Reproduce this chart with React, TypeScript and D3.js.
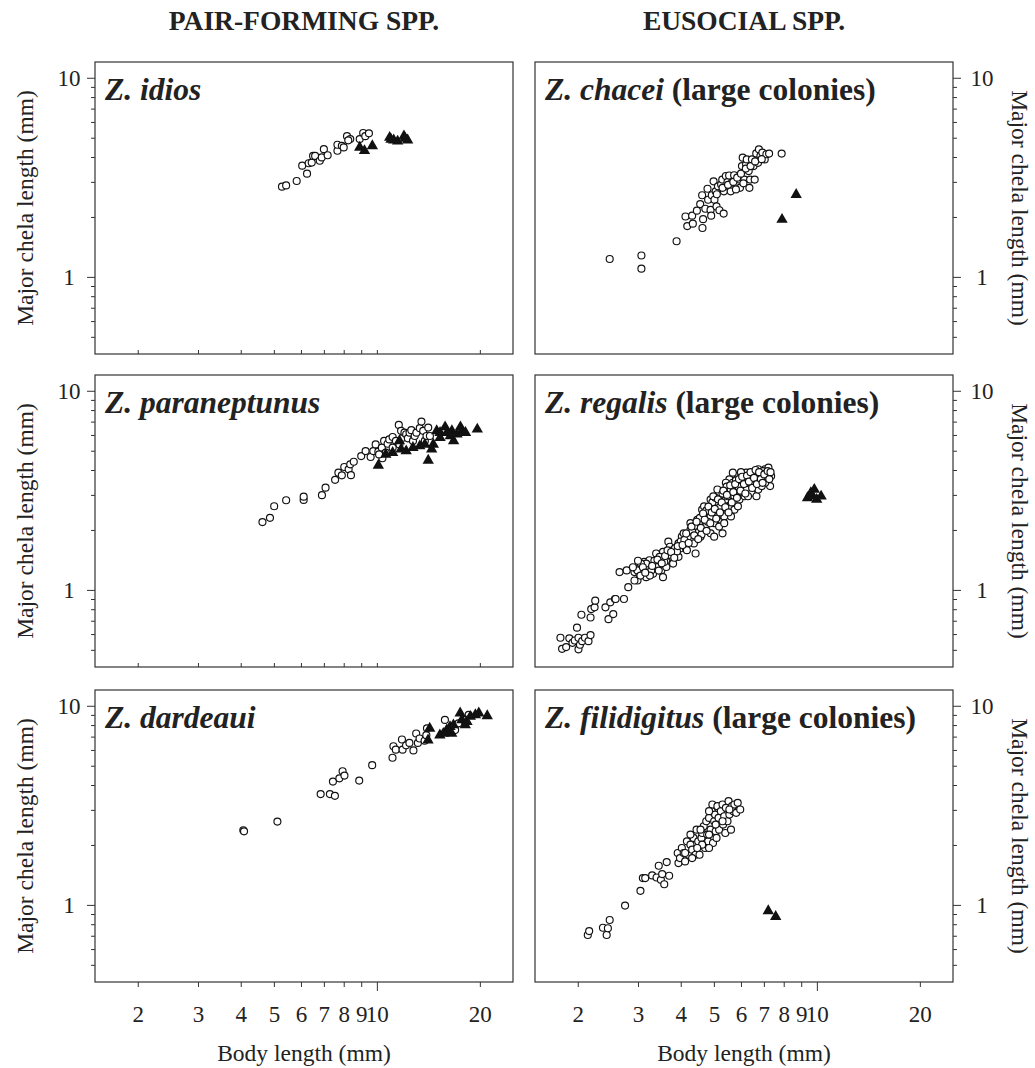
import React, { useEffect, useRef } from 'react';
import * as d3 from 'd3';

// body length (mm), major chela length (mm); circles = non-breeders, triangles = breeders
const idiosCircles = [[5.28,2.84],[5.43,2.88],[5.83,3.03],[6.05,3.62],[6.25,3.30],[6.32,3.72],[6.45,3.75],[6.51,4.05],[6.6,4.05],[6.81,3.83],[6.9,3.98],[7.0,4.38],[7.18,4.08],[7.67,4.30],[7.67,4.61],[7.9,4.55],[8.0,4.47],[8.18,5.09],[8.36,4.92],[8.91,4.92],[9.12,5.28],[9.25,5.09],[9.48,5.26],[8.25,4.85]];
const idiosTriangles = [[8.91,4.47],[9.2,4.3],[9.7,4.55],[10.9,5.01],[11.2,4.86],[11.5,4.8],[12.0,5.09],[12.3,4.86],[11.0,4.9],[12.1,4.95]];

const paraCircles = [[4.63,2.19],[4.87,2.30],[5.01,2.63],[5.43,2.82],[6.11,2.83],[6.11,2.94],[6.91,2.99],[7.08,3.26],[7.55,3.57],[7.72,3.88],[7.90,3.76],[8.03,4.14],[8.27,4.03],[8.36,4.27],[8.40,3.77],[8.56,4.40],[9.00,4.70],[9.27,4.98],[9.59,4.65],[9.76,4.98],[9.92,5.38],[10.10,4.94],[10.34,5.18],[10.38,4.58],[10.50,5.60],[10.75,5.42],[10.87,5.70],[11.12,5.86],[11.37,5.60],[11.59,6.74],[11.77,6.29],[11.91,5.81],[12.04,6.16],[12.18,6.05],[12.32,5.77],[12.46,6.16],[12.61,6.34],[12.75,5.60],[12.90,5.93],[13.05,6.16],[13.35,6.49],[13.50,7.00],[13.66,6.29],[13.81,5.60],[13.97,5.93],[14.13,6.53],[14.29,5.93],[11.64,5.38],[11.12,5.18],[10.62,4.89],[10.15,4.79]];
const paraTriangles = [[10.10,4.22],[10.62,4.79],[11.12,4.89],[11.77,5.08],[12.18,4.98],[12.75,5.18],[13.35,5.28],[13.81,5.38],[14.13,4.47],[14.46,5.08],[14.62,5.38],[14.96,6.29],[15.30,6.16],[15.83,6.58],[16.02,6.16],[16.57,6.29],[16.76,5.60],[17.55,6.58],[17.74,6.29],[18.16,6.16],[19.66,6.41],[11.64,5.60],[15.30,5.81],[16.39,5.93],[17.15,6.05]];

const dardCircles = [[4.07,2.37],[4.09,2.34],[5.12,2.62],[6.85,3.60],[7.29,3.60],[7.54,3.53],[7.44,4.16],[7.77,4.32],[7.94,4.69],[8.04,4.46],[8.88,4.21],[9.69,5.03],[11.11,5.48],[11.18,6.26],[11.36,6.02],[11.84,6.77],[11.89,6.02],[12.17,6.33],[12.45,6.51],[12.79,5.97],[13.03,7.26],[13.18,6.51],[13.33,6.85],[13.79,6.67],[13.95,7.12],[14.01,7.70],[15.81,8.49],[16.93,7.55],[17.32,8.16],[17.93,8.49],[18.55,9.00]];
const dardTriangles = [[14.11,6.72],[14.27,7.70],[15.28,7.12],[16.00,7.55],[16.36,7.85],[16.55,7.26],[16.74,8.00],[17.52,9.18],[17.72,8.49],[18.34,8.32],[18.76,8.83],[19.41,9.00],[19.86,9.18],[21.02,8.90],[18.13,8.00],[16.18,7.41],[15.64,7.26]];

const chaceiCircles = [[2.48,1.23],[3.07,1.28],[3.07,1.10],[3.89,1.51],[4.13,2.01],[4.18,1.80],[4.32,2.03],[4.34,1.85],[4.46,2.15],[4.56,2.32],[4.63,1.76],[4.65,1.95],[4.62,2.57],[4.72,2.20],[4.79,2.77],[4.81,2.44],[4.89,2.17],[4.91,2.03],[4.93,2.57],[4.99,3.02],[5.02,2.44],[5.06,2.69],[5.09,2.26],[5.14,2.85],[5.19,2.16],[5.25,2.91],[5.34,2.08],[5.29,3.08],[5.35,2.69],[5.42,3.21],[5.48,2.99],[5.54,3.23],[5.60,2.69],[5.64,2.97],[5.73,3.24],[5.93,3.08],[5.96,2.80],[6.04,3.60],[6.07,3.97],[6.14,3.08],[6.21,3.67],[6.24,3.89],[6.32,3.40],[6.35,2.80],[6.38,3.08],[6.46,3.89],[6.53,3.60],[6.58,3.08],[6.65,4.17],[6.73,3.74],[6.77,4.37],[6.84,4.05],[6.93,4.21],[7.04,3.89],[7.12,4.13],[7.25,4.16],[7.89,4.16],[5.1,2.6],[5.3,2.8],[5.5,2.9],[5.7,3.0],[5.85,3.15],[6.0,3.3],[6.2,3.5],[6.4,3.6],[6.6,3.8],[6.9,3.9],[5.8,2.75],[6.1,2.95]];
const chaceiTriangles = [[7.91,1.94],[8.70,2.59]];

const regalisCircles = [[1.78,0.575],[1.80,0.506],[1.85,0.516],[1.89,0.571],[1.93,0.542],[1.96,0.557],[1.99,0.646],[2.01,0.503],[2.01,0.575],[2.03,0.53],[2.05,0.750],[2.06,0.553],[2.10,0.575],[2.15,0.553],[2.18,0.593],[2.18,0.727],[2.19,0.801],[2.24,0.817],[2.25,0.883],[2.41,0.817],[2.46,0.713],[2.49,0.866],[2.54,0.756],[2.57,0.900],[2.58,0.900],[2.73,0.900],[2.65,1.229],[2.78,1.253],[2.81,1.032],[2.93,1.229],[2.96,1.278],[2.99,1.115],[3.03,1.206],[3.10,1.253],[3.13,1.382],[3.17,1.159],[3.21,1.303],[3.24,1.409],[3.32,1.206],[3.39,1.523],[3.47,1.355],[3.51,1.253],[3.55,1.159],[3.55,1.553],[3.63,1.409],[3.68,1.746],[3.72,1.646],[3.76,1.465],[3.80,1.583],[3.89,1.523],[3.94,1.711],[3.98,1.614],[4.03,1.851],[4.08,1.924],[4.12,1.646],[4.17,1.780],[4.27,2.001],[4.32,1.815],[4.37,1.711],[4.42,1.523],[4.47,2.001],[4.52,2.163],[4.57,1.851],[4.62,2.528],[4.62,2.338],[4.68,2.040],[4.78,2.249],[4.84,2.431],[4.89,2.842],[4.95,2.629],[5.01,2.163],[5.07,2.431],[5.12,2.733],[5.18,3.012],[5.24,2.249],[5.24,2.528],[5.30,1.924],[5.36,2.338],[5.42,2.842],[5.49,3.193],[5.55,2.629],[5.55,3.589],[5.61,2.954],[5.68,3.452],[5.74,2.528],[5.81,3.193],[5.88,3.732],[5.94,2.842],[6.01,3.452],[6.08,3.071],[6.15,3.589],[6.22,3.880],[6.29,3.320],[6.37,3.732],[6.44,3.071],[6.51,3.452],[6.59,3.880],[6.66,2.954],[6.74,4.034],[6.82,3.520],[6.90,3.805],[6.98,3.732],[7.06,4.034],[7.14,3.589],[7.22,4.113],[7.30,3.320],[7.35,3.732],[5.49,2.954],[5.12,2.338],[4.89,2.338],[4.73,2.080],[4.52,1.963],[4.32,1.963],[4.17,1.583],[3.94,1.465],[3.80,1.355],[3.63,1.303],[3.39,1.303],[3.28,1.253],[3.17,1.355],[3.06,1.355],[2.99,1.253],[2.93,1.115],[3.47,1.465],[4.89,1.924],[5.01,1.851],[5.18,2.080],[5.36,2.163],[5.61,2.338],[5.88,2.629],[6.15,2.954],[6.44,3.320],[6.74,3.193],[7.06,3.452],[6.15,3.320],[6.01,3.732],[6.29,2.954],[5.74,2.954],[5.36,2.629],[4.89,2.528],[4.68,2.629],[4.47,2.249],[4.27,2.163],[5.12,3.193],[5.42,3.452],[5.68,3.880],[6.59,3.452],[6.90,3.320],[3.35,1.40],[3.58,1.38],[3.70,1.50],[3.85,1.62],[4.00,1.75],[4.20,1.85],[4.40,2.10],[4.55,2.30],[4.75,2.50],[4.95,2.75],[5.05,2.90],[5.30,3.05],[5.45,3.30],[5.60,3.20],[5.80,3.55],[6.00,3.90],[6.30,3.60],[6.50,3.80],[6.70,3.65],[6.95,3.95],[7.10,3.85],[5.90,3.30],[6.20,3.20],[5.20,2.60],[4.80,2.20],[4.60,1.90],[4.10,1.78],[3.90,1.56],[3.10,1.30],[3.25,1.18],[3.45,1.25],[2.90,1.30],[3.00,1.40],[3.05,1.18],[3.15,1.22],[3.30,1.32],[3.42,1.42],[3.52,1.36],[3.60,1.48],[3.66,1.58],[3.75,1.55],[3.83,1.45],[3.92,1.66],[4.05,1.68],[4.15,1.92],[4.22,1.72],[4.30,2.08],[4.38,1.88],[4.45,2.20],[4.50,1.80],[4.58,2.05],[4.65,2.42],[4.70,2.25],[4.76,1.98],[4.82,2.62],[4.88,2.16],[4.93,2.45],[4.98,2.95],[5.03,2.55],[5.08,2.28],[5.14,2.85],[5.21,2.45],[5.27,2.75],[5.33,3.15],[5.40,2.60],[5.46,3.00],[5.52,2.45],[5.58,3.35],[5.64,2.75],[5.70,3.10],[5.77,3.40],[5.84,2.90],[5.92,3.60],[5.98,3.15],[6.05,3.70],[6.12,3.40],[6.18,3.05],[6.25,3.75],[6.33,3.50],[6.40,3.90],[6.47,3.25],[6.55,3.65],[6.62,4.00],[6.68,3.40],[6.78,3.90],[6.86,3.60],[6.94,3.45],[7.02,3.80],[7.18,3.95],[7.26,3.60],[7.32,3.90]];
const regalisTriangles = [[9.39,2.897],[9.83,3.193],[9.99,2.842],[10.29,2.954],[9.72,2.954],[9.6,3.07]];

const filiCircles = [[2.14,0.706],[2.16,0.739],[2.37,0.768],[2.43,0.706],[2.45,0.763],[2.48,0.840],[2.75,0.992],[3.05,1.176],[3.10,1.363],[3.15,1.363],[3.30,1.406],[3.40,1.373],[3.45,1.572],[3.50,1.336],[3.53,1.428],[3.58,1.270],[3.64,1.641],[3.70,1.400],[3.92,1.822],[3.94,1.622],[3.98,1.718],[4.03,1.931],[4.08,1.822],[4.12,1.654],[4.17,2.086],[4.22,1.786],[4.27,2.007],[4.32,1.894],[4.36,2.169],[4.42,1.786],[4.45,2.387],[4.50,2.086],[4.54,1.786],[4.60,2.169],[4.62,2.297],[4.67,2.483],[4.71,1.931],[4.75,2.630],[4.78,2.254],[4.81,2.086],[4.84,2.735],[4.89,2.387],[4.93,2.955],[4.95,3.193],[4.97,2.046],[5.01,2.630],[5.04,2.842],[5.06,2.342],[5.09,2.169],[5.12,3.133],[5.16,2.735],[5.18,2.387],[5.24,2.955],[5.30,3.193],[5.32,2.530],[5.36,2.788],[5.40,2.297],[5.42,3.072],[5.48,2.630],[5.52,3.319],[5.55,2.842],[5.61,2.387],[5.65,3.133],[5.70,2.955],[5.74,3.193],[5.81,2.899],[5.87,3.255],[5.97,3.013],[4.84,1.931],[4.62,2.007],[4.47,1.931],[4.32,1.718],[4.12,1.822],[4.27,2.254],[4.57,2.387],[4.84,2.254],[5.06,2.530],[5.30,2.630],[5.55,3.013],[4.84,2.955]];
const filiTriangles = [[7.21,0.933],[7.58,0.873]];

const columnTitles = ['PAIR-FORMING SPP.', 'EUSOCIAL SPP.'];
const xTickValues = [2, 3, 4, 5, 6, 7, 8, 9, 10, 20];
const yTickValues = [0.5, 0.6, 0.7, 0.8, 0.9, 1, 2, 3, 4, 5, 6, 7, 8, 9, 10];
const yTitle = 'Major chela length (mm)';
const xTitle = 'Body length (mm)';

const panels = [
    { col: 0, row: 0, species: 'Z. idios', extra: '', circles: idiosCircles, triangles: idiosTriangles },
    { col: 0, row: 1, species: 'Z. paraneptunus', extra: '', circles: paraCircles, triangles: paraTriangles },
    { col: 0, row: 2, species: 'Z. dardeaui', extra: '', circles: dardCircles, triangles: dardTriangles },
    { col: 1, row: 0, species: 'Z. chacei', extra: ' (large colonies)', circles: chaceiCircles, triangles: chaceiTriangles },
    { col: 1, row: 1, species: 'Z. regalis', extra: ' (large colonies)', circles: regalisCircles, triangles: regalisTriangles },
    { col: 1, row: 2, species: 'Z. filidigitus', extra: ' (large colonies)', circles: filiCircles, triangles: filiTriangles },
];

// find a serif face that is really installed (width test against generic fallbacks)
function pickSerif() {
    const ctx = document.createElement('canvas').getContext('2d');
    const s = 'abcdefghijklmnopqrstuvwxyzABCDEFGHIJKLMNOPQRSTUVWXYZ0123456789()';
    const cands = ['Liberation Serif', 'Times New Roman', 'Tinos', 'Nimbus Roman', 'Nimbus Roman No9 L', 'DejaVu Serif', 'Noto Serif', 'FreeSerif', 'Georgia'];
    if (!ctx) return 'serif';
    for (const f of cands) {
        for (const base of ['monospace', 'sans-serif']) {
            ctx.font = '40px ' + base;
            const w0 = ctx.measureText(s).width;
            ctx.font = '40px "' + f + '", ' + base;
            const w1 = ctx.measureText(s).width;
            if (Math.abs(w1 - w0) > 0.5) return '"' + f + '", serif';
        }
    }
    return 'serif';
}

export default function App() {
    const ref = useRef<SVGSVGElement>(null);

    useEffect(() => {
        document.body.style.margin = '0';
        draw();
    }, []);

    const draw = () => {
        const FONT = pickSerif();
        const W = 1035, H = 1068;
        const colX = [95, 535];
        const rowY = [62, 375, 690];
        const pw = 418, ph = 292;

        const svg = d3.select(ref.current);
        svg.selectAll('*').remove();
        svg.append('rect').attr('width', W).attr('height', H).attr('fill', '#fff');

        const x = d3.scaleLog().domain([1.5, 25]).range([0, pw]);
        const y = d3.scaleLog().domain([0.41, 12]).range([ph, 0]);

        const root = svg.append('g').style('font-family', FONT);

        // column headers
        columnTitles.forEach((t, i) => {
            root.append('text')
                .attr('x', colX[i] + pw / 2)
                .attr('y', 30)
                .attr('text-anchor', 'middle')
                .style('font-family', FONT)
                .attr('font-weight', 'bold')
                .attr('font-size', 27.5)
                .attr('fill', '#222')
                .text(t);
        });

        panels.forEach(p => {
            const g = root.append('g')
                .attr('transform', 'translate(' + colX[p.col] + ',' + rowY[p.row] + ')');

            // y axis (left for pair-forming, right for eusocial)
            const yAxis = (p.col === 0 ? d3.axisLeft(y) : d3.axisRight(y))
                .tickValues(yTickValues)
                .tickSizeInner(4)
                .tickSizeOuter(0)
                .tickPadding(15)
                .tickFormat((d: any) => (d === 1 || d === 10) ? String(d) : '');
            const ya = g.append('g')
                .attr('transform', p.col === 0 ? 'translate(0,0)' : 'translate(' + pw + ',0)')
                .call(yAxis);
            ya.select('.domain').remove();
            ya.selectAll('.tick line')
                .attr('stroke', '#333')
                .attr('x2', (d: any) => {
                    const len = (d === 1 || d === 10) ? 8 : 4;
                    return p.col === 0 ? -len : len;
                });
            ya.selectAll('text')
                .style('font-family', FONT)
                .attr('font-size', 23)
                .attr('fill', '#222')
                .attr('text-anchor', 'middle')
                .attr('x', p.col === 0 ? -26 : 29);

            // x axis
            if (p.row === 2) {
                const xa = g.append('g')
                    .attr('transform', 'translate(0,' + ph + ')')
                    .call(d3.axisBottom(x)
                        .tickValues(xTickValues)
                        .tickSizeInner(5)
                        .tickSizeOuter(0)
                        .tickPadding(19)
                        .tickFormat((d: any) => String(d)));
                xa.select('.domain').remove();
                xa.selectAll('.tick line')
                    .attr('stroke', '#333')
                    .attr('y2', (d: any) => d === 10 ? 9 : 5);
                xa.selectAll('text')
                    .style('font-family', FONT)
                    .attr('font-size', 23)
                    .attr('fill', '#222');

                root.append('text')
                    .attr('x', colX[p.col] + pw / 2)
                    .attr('y', 1061)
                    .attr('text-anchor', 'middle')
                    .style('font-family', FONT)
                    .attr('font-size', 23.5)
                    .attr('fill', '#222')
                    .text(xTitle);
            } else if (p.col === 0) {
                const xa = g.append('g')
                    .attr('transform', 'translate(0,' + ph + ')')
                    .call(d3.axisBottom(x).tickValues(xTickValues).tickSize(-4).tickFormat(() => ''));
                xa.select('.domain').remove();
                xa.selectAll('.tick line').attr('stroke', '#333');
            }

            // y title
            const cy = rowY[p.row] + ph / 2;
            root.append('text')
                .attr('transform', p.col === 0
                    ? 'translate(33,' + cy + ') rotate(-90)'
                    : 'translate(1012,' + cy + ') rotate(90)')
                .attr('text-anchor', 'middle')
                .style('font-family', FONT)
                .attr('font-size', 23.5)
                .attr('fill', '#222')
                .text(yTitle);

            // points
            g.selectAll('circle.pt')
                .data(p.circles)
                .enter()
                .append('circle')
                    .attr('class', 'pt')
                    .attr('cx', (d: any) => x(d[0]))
                    .attr('cy', (d: any) => y(d[1]))
                    .attr('r', 3.5)
                    .attr('fill', '#fff')
                    .attr('stroke', '#111')
                    .attr('stroke-width', 1.15);

            const tri = d3.symbol().type(d3.symbolTriangle).size(56);
            g.selectAll('path.tri')
                .data(p.triangles)
                .enter()
                .append('path')
                    .attr('class', 'tri')
                    .attr('transform', (d: any) => 'translate(' + x(d[0]) + ',' + y(d[1]) + ')')
                    .attr('d', tri as any)
                    .attr('fill', '#111');

            // frame
            g.append('rect')
                .attr('width', pw)
                .attr('height', ph)
                .attr('fill', 'none')
                .attr('stroke', '#333')
                .attr('stroke-width', 1.2);

            // species label
            const lab = g.append('text')
                .attr('x', 10)
                .attr('y', 38)
                .style('font-family', FONT)
                .attr('font-weight', 'bold')
                .attr('font-size', 31.5)
                .attr('fill', '#222');
            lab.append('tspan').attr('font-style', 'italic').text(p.species);
            if (p.extra) lab.append('tspan').text(p.extra);
        });
    };

    return (
        <svg ref={ref} width={1035} height={1068} style={{ display: 'block' }}></svg>
    );
}
